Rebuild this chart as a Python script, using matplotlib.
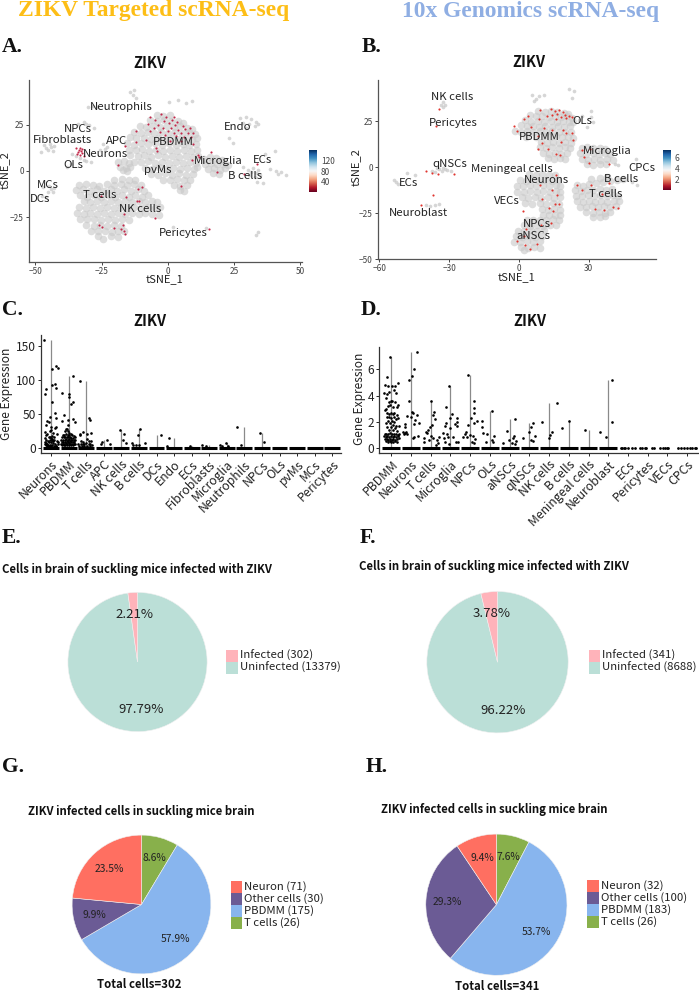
import matplotlib
matplotlib.use('Agg')
import matplotlib.pyplot as plt
import numpy as np
from matplotlib.patches import Rectangle

plt.rcParams['font.family'] = ['Noto Sans CJK SC', 'DejaVu Sans']

W, H = 699, 991

# ---- tSNE panel A
a_clusters = [
    # PBDMM
    (-4.2,30.5),(-1.6,29.8),(0.8,30.2),(-6.8,27.4),(-4.1,26.8),(-1.3,27.6),(1.4,26.9),(3.9,27.2),(5.6,25.9),
    (-10.4,24.2),(-8.2,23.6),(-5.4,24.4),(-2.9,23.7),(-0.4,24.3),(2.3,23.8),(4.8,24.1),(7.3,23.4),(9.1,22.8),
    (-12.6,21.1),(-10.1,20.6),(-7.6,21.3),(-5.1,20.7),(-2.4,21.2),(0.2,20.6),(2.9,21.1),(5.4,20.5),(7.9,21.0),(10.2,20.2),
    (-14.3,18.2),(-11.8,17.6),(-9.1,18.1),(-6.5,17.5),(-3.8,18.0),(-1.1,17.4),(1.6,18.1),(4.2,17.5),(6.8,18.0),(9.3,17.4),(11.2,18.1),
    (-15.2,14.9),(-12.7,14.3),(-10.2,15.0),(-7.4,14.4),(-4.9,14.9),(-2.2,14.3),(0.5,14.9),(3.1,14.3),(5.7,14.8),(8.2,14.2),(10.7,14.7),
    (-14.8,11.6),(-12.1,11.1),(-9.6,11.7),(-7.0,11.0),(-4.3,11.6),(-1.6,11.0),(1.0,11.6),(3.6,11.0),(6.2,11.5),(8.8,10.9),(11.0,11.4),
    (-14.1,8.4),(-11.4,7.9),(-8.8,8.5),(-6.2,7.8),(-3.5,8.4),(-0.9,7.8),(1.7,8.3),(4.4,7.7),(7.0,8.3),(9.5,7.8),(11.4,8.2),
    (-12.8,5.1),(-10.0,4.6),(-7.4,5.2),(-4.7,4.5),(-2.1,5.1),(0.6,4.5),(3.2,5.1),(5.8,4.5),(8.4,5.0),(10.8,4.5),
    (-8.6,1.8),(-5.9,1.3),(-3.2,1.9),(-0.6,1.3),(2.1,1.8),(4.7,1.2),(7.3,1.8),(9.8,1.2),(11.2,2.0),
    (-6.2,-1.4),(-3.6,-1.9),(-0.9,-1.3),(1.8,-1.9),(4.4,-1.3),(7.0,-1.9),(9.4,-1.4),
    (-1.8,-4.6),(1.0,-5.1),(3.6,-4.5),(6.2,-5.0),(8.6,-4.6),(2.2,-7.8),(4.8,-8.2),(7.2,-7.6),(4.6,-10.4),(6.1,-11.0),
    # small blob beside APC
    (-18.6,4.8),(-16.4,5.2),(-14.6,4.4),(-18.0,2.2),(-15.8,1.8),(-14.2,2.4),(-17.0,0.4),(-15.2,0.2),
    # microglia
    (13.6,6.6),(15.8,7.4),(18.2,7.0),(20.4,6.2),(14.2,3.8),(16.4,4.4),(18.8,3.6),(21.0,4.0),(22.6,3.0),
    (15.2,1.2),(17.6,1.6),(19.8,0.8),(21.8,1.4),(17.0,-1.0),(19.4,-1.4),
    # T cells and NK cells
    (-20.2,-4.6),(-17.4,-4.2),(-14.8,-5.0),(-12.2,-4.8),(-23.0,-7.2),(-20.4,-7.6),(-17.8,-7.0),(-15.2,-7.6),(-12.6,-7.0),(-10.2,-7.8),
    (-33.6,-7.6),(-31.0,-7.0),(-28.4,-7.6),(-25.8,-8.2),(-34.6,-10.4),(-32.0,-10.0),(-29.4,-10.6),(-26.8,-10.0),(-24.2,-10.6),(-21.6,-10.0),(-19.0,-10.6),(-16.4,-10.0),(-13.8,-10.6),(-11.2,-10.0),(-8.8,-10.6),
    (-33.0,-13.2),(-30.4,-13.8),(-27.8,-13.2),(-25.2,-13.8),(-22.6,-13.2),(-20.0,-13.8),(-17.4,-13.2),(-14.8,-13.8),(-12.2,-13.2),(-9.6,-13.8),(-7.4,-13.2),
    (-31.8,-16.4),(-29.2,-16.8),(-26.6,-16.2),(-24.0,-16.8),(-21.4,-16.2),(-18.8,-16.8),(-16.2,-16.2),(-13.6,-16.8),(-11.0,-16.2),(-8.4,-16.8),(-5.8,-16.2),(-4.0,-17.0),
    (-33.4,-19.4),(-30.8,-20.0),(-28.2,-19.4),(-25.6,-20.0),(-23.0,-19.4),(-20.4,-20.0),(-17.8,-19.4),(-15.2,-20.0),(-12.6,-19.4),(-10.0,-20.0),(-7.4,-19.4),(-4.8,-20.0),(-2.8,-19.4),
    (-34.4,-22.6),(-31.8,-23.2),(-29.2,-22.6),(-26.6,-23.2),(-24.0,-22.6),(-21.4,-23.2),(-18.8,-22.6),(-16.2,-23.2),(-13.6,-22.6),(-11.0,-23.2),(-8.4,-22.6),(-5.8,-23.2),(-3.4,-24.0),
    (-33.0,-25.8),(-30.4,-26.2),(-27.8,-25.8),(-25.2,-26.4),(-22.6,-25.8),(-20.0,-26.4),(-17.4,-25.8),(-14.8,-26.4),
    (-30.8,-29.2),(-28.0,-29.6),(-25.4,-29.0),(-22.8,-29.6),(-20.2,-29.0),(-17.6,-29.6),
    (-29.0,-32.2),(-26.4,-32.6),(-23.8,-32.2),(-21.2,-32.8),(-18.6,-32.2),(-16.4,-32.6),
    (-26.2,-35.4),(-24.4,-36.6),(-21.6,-35.2),(-18.6,-35.6),
]
a_sparse = [
    (-46.6,13.8),(-44.6,14.6),(-42.8,13.4),(-45.2,11.6),(-43.2,11.0),(-47.8,10.4),(-45.8,12.6),(-44.0,12.8),
    (-36.0,9.2),(-33.0,7.0),(-30.8,5.6),(-29.0,4.6),(-36.4,3.8),(-38.0,2.4),(-34.6,8.2),(-31.8,6.2),
    (-47.0,-8.6),(-44.8,-8.0),(-43.0,-9.2),(-45.4,-11.2),(-43.4,-11.6),(-47.6,-13.6),(-45.8,-14.2),(-44.2,-10.0),
    (-33.8,25.4),(-31.8,26.6),(-29.6,24.6),(-28.0,23.2),(-30.0,34.8),(-28.4,35.2),(-26.6,34.6),(-31.0,25.2),
    (-24.6,14.6),(-22.8,13.0),(-25.4,11.4),(-23.6,11.8),(-14.2,42.6),(-13.2,41.0),(-12.0,39.4),(-12.6,43.6),
    (27.2,28.6),(29.4,29.4),(31.6,28.0),(33.2,26.6),(28.4,26.2),(30.8,25.6),(32.8,24.2),(29.6,23.4),(34.0,25.2),
    (28.6,2.2),(30.2,0.8),(32.2,1.6),(34.2,0.4),(30.8,-2.2),(33.0,-3.0),(35.0,-2.2),(33.6,-6.2),(35.8,-6.4),(31.4,-0.6),(33.4,-1.0),
    (38.6,1.2),(40.8,0.2),(42.6,-0.4),(44.8,-2.0),(24.8,15.0),(23.2,17.6),(34.0,-33.0),(33.4,-34.6),(41.6,-1.6),
    (0.6,37.4),(3.8,38.6),(6.8,36.6),(9.2,37.8),(5.6,-32.6),(2.0,-30.4),(14.6,-31.0),(40.4,10.6),(36.8,9.2),
]
a_red = [
    (-2.4,30.8),(-6.6,29.2),(-0.6,29.4),(2.2,29.0),(-4.8,27.8),(-1.4,26.8),(1.6,27.4),(3.4,26.6),(-7.4,25.2),(-3.6,25.0),
    (0.4,25.8),(2.8,25.0),(5.6,24.2),(-5.0,23.4),(-1.8,23.2),(1.2,23.4),(4.0,22.4),(6.4,22.8),(8.6,23.2),(-6.8,21.8),
    (-3.0,21.2),(0.0,21.8),(2.4,20.8),(5.0,20.6),(7.6,20.6),(9.6,20.4),(-1.2,19.4),(3.2,18.8),(6.2,18.4),(8.8,18.2),
    (-8.2,17.0),(1.0,16.4),(5.0,16.0),(9.4,14.6),(-4.6,12.4),(-12.0,15.6),(-11.8,21.8),(-4.2,10.6),(9.0,6.0),(11.6,8.4),
    # neurons patch
    (-34.6,12.2),(-33.6,11.4),(-33.0,12.4),(-33.8,10.2),(-32.8,10.8),(-32.2,9.6),(-33.2,8.8),(-31.8,8.2),(-34.4,9.4),(-32.4,11.8),
    # scattered
    (-18.6,3.4),(-16.2,13.6),(-25.2,-13.6),(-15.6,-14.0),(-11.2,-9.6),(-9.6,-8.8),(-10.8,-16.2),(-16.6,-23.0),(-4.8,-25.4),(-17.0,-29.4),
    (-17.6,-31.6),(-16.4,-32.2),(-16.2,-34.2),(-26.0,-29.4),(-24.8,-30.4),(-20.4,-30.6),(-11.6,-16.4),(5.0,-8.0),(12.0,7.6),(16.4,10.4),
    (18.6,-0.4),(28.8,-1.8),(33.6,3.6),(15.6,-31.6),
]
a_labels = ['Neutrophils', 'NPCs', 'Fibroblasts', 'APC', 'PBDMM', 'Neurons', 'OLs', 'pvMs', 'Microglia',
            'ECs', 'B cells', 'Endo', 'MCs', 'DCs', 'T cells', 'NK cells', 'Pericytes']
a_label_x = [-17.5, -33.9, -39.8, -19.5, 2.0, -23.5, -35.5, -3.9, 18.9, 35.8, 29.1, 26.4, -45.3, -48.3, -25.6, -10.4, 5.7]
a_label_y = [34.8, 22.5, 16.8, 16.4, 15.9, 9.4, 3.0, 0.5, 5.2, 5.9, -2.7, 23.8, -7.6, -15.3, -13.2, -20.7, -33.7]

# ---- tSNE panel B
b_clusters = [
    # PBDMM
    (8.2,30.4),(11.0,30.0),(13.8,30.6),(16.4,30.2),(19.2,29.6),(21.2,28.8),
    (4.6,28.2),(7.2,27.6),(10.0,28.0),(12.8,27.4),(15.6,27.8),(18.2,27.2),(20.8,27.6),(22.8,26.6),
    (2.8,25.4),(5.4,24.8),(8.2,25.2),(10.8,24.8),(13.6,25.2),(16.4,24.6),(19.0,25.0),(21.6,24.4),(23.4,24.8),
    (0.8,22.8),(3.4,22.2),(6.0,22.6),(8.8,22.0),(11.4,22.6),(14.2,22.0),(16.8,22.4),(19.4,21.8),(22.0,22.2),
    (-1.8,19.6),(0.8,19.2),(3.6,19.8),(6.2,19.2),(9.0,19.6),(11.6,19.0),(14.4,19.6),(17.0,19.0),(19.8,19.4),(22.2,19.0),
    (3.2,16.6),(7.4,16.4),(10.6,16.8),(13.2,16.2),(15.8,16.8),(18.4,16.2),(21.0,16.6),(23.0,16.0),
    (9.4,13.8),(12.0,13.4),(14.6,13.8),(17.2,13.2),(19.8,13.8),(22.2,13.2),
    (9.2,10.8),(11.8,10.4),(14.4,10.8),(17.0,10.2),(19.6,10.8),(21.8,10.4),
    (10.4,7.8),(13.0,7.4),(15.6,7.8),(18.2,7.2),(20.6,7.8),(12.4,5.0),(15.0,4.6),(17.6,5.0),(19.8,4.6),
    # microglia
    (27.0,10.4),(29.4,10.8),(32.0,10.2),(34.6,10.6),(37.0,10.0),(26.4,7.8),(29.0,7.2),(31.6,7.8),(34.2,7.2),(36.8,7.6),(39.2,7.0),
    (27.2,4.6),(29.8,4.2),(32.4,4.6),(35.0,4.0),(37.6,4.6),(40.2,3.8),(29.4,1.8),(32.0,1.4),(34.6,1.8),(37.2,1.6),
    # neurons and VECs
    (4.4,-3.8),(7.2,-4.4),(10.0,-3.8),(12.8,-4.4),(15.6,-4.0),(0.4,-6.8),(3.0,-7.2),(5.8,-6.6),(8.6,-7.2),(11.4,-6.8),(14.0,-7.2),(16.8,-6.8),
    (-1.0,-10.0),(1.8,-10.4),(4.6,-9.8),(7.4,-10.4),(10.2,-9.8),(13.0,-10.4),(15.8,-9.8),(17.8,-10.2),
    (-0.8,-13.2),(2.0,-13.6),(4.8,-13.0),(7.6,-13.6),(10.4,-13.0),(13.2,-13.6),(16.0,-13.0),(17.8,-13.6),
    (1.2,-16.4),(4.0,-16.8),(6.8,-16.2),(9.6,-16.8),(12.4,-16.2),(15.2,-16.8),(17.6,-16.2),
    (2.8,-19.6),(5.8,-20.0),(9.0,-19.4),(11.8,-20.0),(14.6,-19.4),(17.2,-20.0),
    (9.8,-22.8),(12.4,-23.2),(15.0,-22.6),(17.6,-23.2),(10.2,-25.8),(12.8,-26.2),(15.4,-25.8),(17.8,-26.0),
    # NPCs and aNSCs
    (3.4,-28.4),(6.2,-28.8),(9.0,-28.4),(11.8,-28.8),(14.6,-28.2),(17.4,-28.6),(2.0,-31.4),(4.8,-31.8),(7.6,-31.2),(10.4,-31.8),(13.2,-31.2),(16.0,-31.6),
    (-0.6,-34.4),(2.2,-34.8),(5.0,-34.2),(7.8,-34.8),(10.6,-34.2),(-1.4,-37.4),(1.4,-37.8),(4.2,-37.2),(7.0,-37.8),(9.8,-37.2),
    (-2.2,-40.4),(0.6,-40.8),(3.4,-40.2),(6.2,-40.8),(9.0,-40.2),(1.0,-43.4),(3.8,-43.8),(6.6,-43.2),(9.0,-43.6),(2.0,-45.2),
    # T cells and B cells
    (24.8,-9.4),(27.4,-10.0),(30.0,-9.2),(33.0,-8.8),(36.0,-8.2),(39.0,-7.6),(42.0,-7.0),(44.6,-6.2),(31.0,-6.4),(34.6,-5.6),(38.0,-5.2),
    (24.2,-12.4),(26.8,-12.8),(29.4,-12.2),(32.0,-12.6),(34.6,-12.0),(37.2,-12.6),(39.8,-12.0),
    (24.6,-15.4),(27.2,-15.8),(29.8,-15.2),(32.4,-15.8),(35.0,-15.2),(37.6,-15.8),(40.2,-15.2),(42.4,-15.8),
    (25.0,-18.4),(27.6,-18.8),(30.2,-18.2),(32.8,-18.8),(35.4,-18.2),(38.0,-18.8),(40.6,-18.2),(43.0,-18.6),
    (26.2,-21.4),(28.8,-21.8),(31.4,-21.2),(34.0,-21.8),(36.6,-21.2),(39.2,-21.8),(41.8,-21.2),
    (29.0,-24.4),(31.6,-24.8),(34.2,-24.2),(36.8,-24.8),(39.0,-24.2),(32.0,-26.8),(34.6,-27.2),(37.0,-26.6),
]
b_sparse = [
    (-37.4,-1.8),(-35.8,-2.6),(-34.2,-1.0),(-32.4,-0.4),(-30.8,-1.6),(-29.2,-2.2),(-35.0,-0.2),(-33.2,-1.8),(-31.6,-0.8),
    (-53.6,-7.0),(-52.8,-8.2),(-52.0,-9.2),(-32.6,35.2),(-31.8,34.0),(-33.6,34.0),(-32.4,33.0),
    (-40.0,-20.4),(-38.0,-21.0),(-35.8,-20.4),(-34.2,-20.0),(5.8,39.0),(7.4,37.2),(8.8,38.6),(10.6,39.4),(6.4,36.0),
    (21.6,42.6),(23.8,41.6),(22.6,37.6),(30.8,30.4),(31.0,27.4),(31.6,24.6),(29.4,22.0),(50.4,4.4),(50.6,-9.4),(48.6,-8.0),
    (41.4,2.0),(42.6,1.2),(-48.0,-3.2),(-44.6,-4.0),(25.6,25.4),(27.0,27.8),
]
b_red = [
    (9.0,31.0),(13.8,31.4),(15.4,30.8),(17.4,31.2),(18.8,30.0),(16.4,29.2),(19.8,28.6),(21.6,28.0),(14.0,28.4),(12.0,27.6),
    (18.0,27.4),(20.4,26.8),(15.8,26.2),(22.6,27.4),(8.8,26.0),(4.0,27.6),(2.2,26.2),(-2.2,22.4),(-1.0,19.8),(5.4,21.8),
    (10.6,21.4),(14.4,20.2),(18.8,20.0),(20.2,18.6),(22.6,18.8),(23.2,14.6),(8.2,17.2),(10.0,13.4),(18.0,13.6),(12.4,9.8),
    (15.8,7.4),(17.6,6.4),(8.2,10.0),(27.2,9.4),(28.0,5.6),(30.0,2.4),(38.6,2.0),(30.4,10.0),
    (-39.8,-2.0),(-37.2,-3.2),(-34.6,-3.8),(-27.8,-3.4),(-35.6,22.2),(-34.4,31.6),(-36.8,-14.8),(-42.0,-20.6),
    (15.8,-4.4),(9.0,-9.4),(14.4,-12.2),(16.4,-14.8),(10.0,-17.4),(15.4,-19.8),(13.0,-22.4),(14.8,-23.8),(1.6,-23.6),(17.0,-20.0),
    (27.0,-12.4),(24.8,-9.6),(30.8,-9.8),(32.6,-22.8),(36.4,-23.4),(40.4,-21.8),(42.6,-22.0),(35.8,-14.6),(38.8,-8.8),
    (2.4,-42.4),(4.8,-44.6),(7.8,-41.8),(2.2,-37.2),(9.6,-31.6),(13.8,-30.4),(3.2,-33.6),(-1.0,-39.8),
]
b_labels = ['NK cells', 'Pericytes', 'OLs', 'PBDMM', 'Microglia', 'qNSCs', 'Meningeal cells', 'CPCs', 'Neurons',
            'B cells', 'ECs', 'T cells', 'VECs', 'Neuroblast', 'NPCs', 'aNSCs']
b_label_x = [-28.5, -28.2, 27.0, 8.9, 37.8, -29.8, -3.0, 52.6, 11.9, 43.8, -47.5, 37.3, -5.2, -43.3, 7.6, 6.2]
b_label_y = [38.0, 24.1, 25.2, 16.5, 8.7, 1.6, -0.9, -0.2, -7.1, -6.3, -8.5, -14.5, -18.3, -24.6, -30.8, -37.1]

# ---- expression panel C
c_cats = ['Neurons', 'PBDMM', 'T cells', 'APC', 'NK cells', 'B cells', 'DCs', 'Endo', 'ECs', 'Fibroblasts',
          'Microglia', 'Neutrophils', 'NPCs', 'OLs', 'pvMs', 'MCs', 'Pericytes']
c_max = [158, 106, 98, 12, 26, 27, 18, 14, 3, 4, 6.4, 31, 22, 0, 0, 0, 0]
c_points = [
    # Neurons
    (0.62,158),(0.74,86),(0.64,79),(1.08,116),(1.26,120.5),(1.4,117.5),(1.04,93),(1.23,94),(1.26,88.5),(1.04,68),
    (1.23,50.6),(1.28,43),(0.94,45),(0.76,40),(0.87,38),(0.72,33.5),(0.66,22.6),(0.7,18.7),(1.0,30),(1.28,30),
    (1.25,29),(1.02,26),(0.96,24),(1.11,22),(1.36,20),(1.06,17),(0.92,16),(1.15,15),(0.98,14),(1.04,13),
    (0.68,14),(0.74,12),(0.81,10),(1.19,12),(1.32,10),(0.66,8),(0.72,7),(0.79,6),(0.9,8),(1.0,9),
    (1.09,7),(1.23,6),(1.38,5),(0.64,5),(0.7,4),(0.85,4),(0.96,4),(1.08,4),(1.17,3),(1.3,3),
    (0.76,2.5),(0.9,2.5),(1.02,2.5),(1.26,2),(1.4,8),(0.94,11),(1.13,10),(0.87,15),(1.08,11),(0.78,20),
    # PBDMM
    (2.27,106),(2.02,79),(2.04,74),(2.27,68),(2.13,64),(1.62,80),(1.75,48),(1.64,39),(1.98,41),(2.22,42),
    (2.37,38),(1.94,33.5),(1.9,28),(1.84,27),(1.79,25),(1.96,24),(2.04,21),(2.13,20),(1.66,19),(1.75,19),
    (1.87,20),(1.94,18),(2.02,18),(2.19,18),(2.28,17),(1.64,15),(1.72,15),(1.81,16),(1.88,15),(1.98,15),
    (2.07,16),(2.15,14),(2.24,14),(2.34,15),(1.58,12),(1.68,12),(1.77,12),(1.85,13),(1.94,12),(2.04,13),
    (2.11,11),(2.21,12),(2.3,11),(2.38,12),(1.6,9),(1.7,9),(1.79,9),(1.88,10),(1.98,9),(2.05,10),
    (2.15,9),(2.23,8),(2.32,9),(1.56,6),(1.66,6),(1.75,6),(1.83,7),(1.92,6),(2.0,7),(2.09,6),
    (2.19,6),(2.28,6),(2.36,6),(1.62,4),(1.72,4),(1.81,3.5),(1.9,4),(2.0,4),(2.11,3.5),(2.22,4),
    # T cells
    (2.65,98),(3.16,43),(3.24,41),(2.83,22.6),(2.65,18.7),(2.64,20),(3.3,22),(3.07,20),(2.69,10),(2.83,9),
    (3.16,10),(3.3,10),(3.07,13),(2.56,6),(2.68,5),(2.79,6),(2.9,5),(3.01,7),(3.13,6),(3.24,5),
    (3.32,4),(2.6,3),(2.75,3),(2.88,3),(3.07,3),(3.2,3),
    # remaining types
    (3.88,9),(3.84,6),(4.16,12),(4.35,5.4),(4.92,26),(5.15,20),(5.08,11),(5.24,7),
    (6.06,27),(5.95,18),(5.6,7),(5.65,4),(6.37,7),(5.83,4),(6.03,4),(7.28,18),(7.69,14),(7.59,2),
    (8.92,3),(9.56,4),(9.84,3),(10.6,4),(10.93,6.4),(10.73,3),(11.07,2.5),(11.6,31),(11.78,4),(12.88,22),(13.11,8),
]

# ---- expression panel D
d_cats = ['PBDMM', 'Neurons', 'T cells', 'Microglia', 'NPCs', 'OLs', 'aNSCs', 'qNSCs', 'NK cells', 'B cells',
          'Meningeal cells', 'Neuroblast', 'ECs', 'Pericytes', 'VECs', 'CPCs']
d_max = [6.9, 7.3, 3.57, 4.73, 5.52, 2.84, 2.2, 1.95, 3.42, 2.05, 1.42, 5.16, 0, 0, 0, 0]
d_points = [
    (0.93,6.9),(0.76,5.4),(1.32,4.95),(0.68,4.8),(0.82,4.7),(1.02,4.75),(1.18,4.7),(0.63,4.2),(1.12,4.4),(0.9,4.3),
    (1.22,4.2),(0.78,4.1),(0.72,3.8),(0.96,3.6),(0.88,3.5),(1.04,3.55),(1.2,3.5),(1.34,3.3),(1.3,3.1),(0.74,3.0),
    (0.84,3.2),(0.92,3.3),(1.1,3.1),(0.7,2.9),(0.78,2.7),(0.86,2.6),(0.98,2.7),(1.06,2.6),(1.16,2.7),(1.28,2.5),
    (0.76,2.4),(0.9,2.4),(1.0,2.3),(1.12,2.4),(1.22,2.2),(1.36,2.3),(0.82,2.1),(1.04,2.1),(1.16,2.0),(0.72,1.9),
    (0.94,1.9),(1.08,1.8),(1.26,1.7),(1.38,1.7),(0.8,1.6),(1.0,1.6),(1.18,1.5),(0.88,1.4),(1.1,1.4),(1.3,1.3),
    (0.66,1.1),(0.74,1.05),(0.84,1.1),(0.92,1.15),(1.02,1.05),(1.12,1.1),(1.22,1.05),(1.32,1.0),(1.4,1.05),(0.64,0.95),
    (0.72,0.85),(0.8,0.9),(0.88,0.85),(0.98,0.9),(1.06,0.85),(1.16,0.9),(1.26,0.85),(1.36,0.9),(0.68,0.7),(0.76,0.7),
    (0.84,0.65),(0.94,0.7),(1.02,0.65),(1.1,0.7),(1.2,0.65),(1.3,0.7),(1.38,0.75),(0.72,0.55),(0.82,0.5),(0.92,0.55),
    (1.0,0.5),(1.1,0.5),(1.18,0.55),(1.28,0.5),
    (2.32,7.3),(2.13,6.03),(2.05,5.5),(1.91,5.2),(1.88,3.57),(2.1,2.66),(2.05,2.78),(2.3,2.5),(1.81,2.46),(2.0,2.35),
    (2.2,2.15),(2.4,1.9),(2.17,1.85),(1.69,1.82),(1.69,1.65),(1.6,1.2),(1.7,1.15),(1.8,1.08),(2.08,0.8),(2.37,0.96),
    (2.14,0.82),(1.64,1.1),(1.75,1.2),
    (3.0,3.57),(3.15,2.73),(3.13,2.53),(3.2,2.2),(3.04,1.77),(2.96,1.65),(2.84,1.4),(2.76,1.27),(2.82,1.15),(2.65,0.76),
    (2.65,0.5),(2.92,0.63),(3.02,0.94),(3.13,0.76),(3.33,0.63),(3.42,0.89),(3.37,0.38),(3.29,0.25),
    (3.9,4.73),(3.77,3.16),(4.09,2.58),(3.96,2.28),(4.35,2.28),(4.33,2.03),(4.24,1.82),(4.34,1.7),(3.77,1.95),(3.7,1.7),
    (3.96,1.5),(3.62,1.14),(3.8,1.09),(3.85,0.89),(3.68,0.76),(4.15,0.89),(4.27,0.46),(4.39,0.46),(3.72,0.5),(3.94,0.33),
    (4.9,5.52),(5.17,3.6),(5.19,3.04),(5.2,2.66),(5.02,2.28),(5.32,2.1),(5.19,1.9),(4.9,1.77),(4.77,1.27),(4.73,1.06),
    (4.65,0.89),(4.82,0.84),(4.99,1.01),(5.12,0.96),(5.24,0.71),(5.07,0.51),(5.19,0.38),
    (5.61,2.1),(5.61,1.6),(6.08,2.84),(5.63,1.14),(5.83,1.06),(5.8,0.46),(6.22,0.94),(6.08,0.63),(6.16,0.5),
    (7.25,2.2),(6.84,1.34),(6.67,0.38),(6.98,0.63),(7.2,0.94),(7.17,0.76),(7.34,0.58),(7.14,0.38),(7.29,0.3),
    (8.16,1.95),(8.08,1.65),(8.0,1.2),(7.67,0.8),(8.3,0.94),(8.08,0.63),(8.16,0.58),
    (8.62,2.0),(9.38,3.42),(9.13,1.27),(9.04,1.0),(8.99,0.76),(10.0,2.05),(9.66,1.54),(10.8,1.42),
    (12.2,5.16),(12.2,1.97),(11.6,1.27),(11.9,0.86),
]
d_zero_x = [12.62, 12.7, 12.78, 12.86, 13.02, 13.2, 13.38, 13.6, 13.72, 13.84, 13.92, 14.3, 14.62, 14.8, 14.9, 14.98, 15.02,
            15.56, 15.7, 15.86, 15.98, 16.12, 16.24, 16.38, 16.46, 14.22]

# ---- pies
e_vals = [13379, 302]
e_legend = ['Infected (302)', 'Uninfected (13379)']
f_vals = [8688, 341]
f_legend = ['Infected (341)', 'Uninfected (8688)']
g_vals = [26, 175, 30, 71]
g_legend = ['Neuron (71)', 'Other cells (30)', 'PBDMM (175)', 'T cells (26)']
h_vals = [26, 183, 100, 32]
h_legend = ['Neuron (32)', 'Other cells (100)', 'PBDMM (183)', 'T cells (26)']

pink, mint = '#FFB3BA', '#BBDFD7'
coral, purple, sky, olive = '#FF6F61', '#6B5B95', '#88B5EE', '#88B04B'

fig = plt.figure(figsize=(W / 100, H / 100), dpi=100, facecolor='white')


def box(left, top, right, bottom):
    return [left / W, 1 - bottom / H, (right - left) / W, (bottom - top) / H]


def label(x, y, s, **kw):
    kw.setdefault('ha', 'center')
    kw.setdefault('va', 'center')
    fig.text(x / W, 1 - y / H, s, **kw)


def tsne(pos, xlim, ylim, xticks, yticks, clusters, sparse, red, redcolor, names, nx, ny):
    ax = fig.add_axes(box(*pos))
    gx, gy = zip(*clusters)
    # soft overlapping dots give the mottled look of the dense clusters
    ax.scatter(gx, gy, s=30, color='#c9c9c9', alpha=0.62, linewidths=0)
    sx, sy = zip(*sparse)
    ax.scatter(sx, sy, s=7, color='#c9c9c9', alpha=0.75, linewidths=0)
    rx, ry = zip(*red)
    ax.scatter(rx, ry, s=2.4, color=redcolor, linewidths=0)
    for n, x, y in zip(names, nx, ny):
        ax.text(x, y, n, fontsize=8.2, color='#222222', ha='center', va='center')
    ax.set_xlim(xlim)
    ax.set_ylim(ylim)
    ax.set_xticks(xticks)
    ax.set_yticks(yticks)
    ax.tick_params(labelsize=6, colors='#444444', length=2, width=0.7, pad=1.5)
    for s in ['top', 'right']:
        ax.spines[s].set_visible(False)
    for s in ['left', 'bottom']:
        ax.spines[s].set_color('#555555')
        ax.spines[s].set_linewidth(0.9)
    return ax


def colorbar(pos, vmin, vmax, ticks):
    ax = fig.add_axes(box(*pos))
    grad = np.linspace(vmin, vmax, 128).reshape(-1, 1)
    ax.imshow(grad, aspect='auto', origin='lower', cmap='RdBu', extent=[0, 1, vmin, vmax])
    ax.set_xticks([])
    ax.yaxis.tick_right()
    ax.set_yticks(ticks)
    ax.tick_params(labelsize=6, colors='#444444', length=0, pad=2.5)
    for s in ax.spines.values():
        s.set_visible(False)


def expression(pos, xlim, ylim, yticks, cats, tops, points, full_zero, zero_x=()):
    ax = fig.add_axes(box(*pos))
    xs = np.arange(1, len(cats) + 1)
    ax.vlines(xs, 0, tops, color='#8a8a8a', lw=0.9, zorder=1)
    ax.hlines(np.zeros(full_zero), xs[:full_zero] - 0.45, xs[:full_zero] + 0.45, color='black', lw=2.2, zorder=2)
    if len(zero_x):
        ax.scatter(zero_x, np.zeros(len(zero_x)), s=4, color='black', linewidths=0, zorder=2)
    px, py = zip(*points)
    ax.scatter(px, py, s=3.6, color='black', linewidths=0, zorder=3)
    ax.set_xlim(xlim)
    ax.set_ylim(ylim)
    ax.set_yticks(yticks)
    ax.set_xticks(xs)
    ax.set_xticklabels(cats, rotation=45, ha='right', rotation_mode='anchor')
    ax.tick_params(axis='y', labelsize=8.6, length=2, width=0.7, pad=1.5, colors='#222222')
    ax.tick_params(axis='x', labelsize=8.8, length=2, width=0.7, pad=1.5, colors='#222222')
    for s in ['top', 'right']:
        ax.spines[s].set_visible(False)
    for s in ['left', 'bottom']:
        ax.spines[s].set_color('#333333')
        ax.spines[s].set_linewidth(0.9)
    return ax


def pie(center, r, vals, colors, fmt, fsize):
    ax = fig.add_axes(box(center[0] - r, center[1] - r, center[0] + r, center[1] + r))
    ax.pie(vals, colors=colors, startangle=90, counterclock=False, radius=1, autopct=fmt, pctdistance=0.69,
           wedgeprops={'edgecolor': '#f0f0f0', 'linewidth': 0.4}, textprops={'fontsize': fsize, 'color': '#222222'})
    ax.set_xlim(-1, 1)
    ax.set_ylim(-1, 1)
    ax.set_aspect('auto')


def swatches(x, y0, names, colors, step=12):
    for i, (n, c) in enumerate(zip(names, colors)):
        top = y0 + i * step
        fig.add_artist(Rectangle((x / W, 1 - (top + 11.5) / H), 11.5 / W, 11.5 / H, transform=fig.transFigure,
                                 facecolor=c, edgecolor='none'))
        label(x + 14, top + 5.6, n, ha='left', fontsize=8.2, color='#222222')


# headline text
label(17.5, 15.7, 'ZIKV Targeted scRNA-seq', ha='left', va='baseline', family='Liberation Serif', weight='bold',
      fontsize=16.9, color='#FDBE16')
label(401.5, 16.5, '10x Genomics scRNA-seq', ha='left', va='baseline', family='Liberation Serif', weight='bold',
      fontsize=16.9, color='#8FAEE3')

for s, x, y in [('A.', 2, 51.5), ('B.', 362, 51.5), ('C.', 2, 315), ('D.', 361, 315),
                ('E.', 2, 543), ('F.', 360, 543), ('G.', 2, 772.5), ('H.', 365.5, 772.5)]:
    label(x, y, s, ha='left', va='baseline', family='Liberation Serif', weight='bold', fontsize=15.5, color='#111111')

for x, y in [(150, 63), (529, 62), (150, 320.5), (530, 320.5)]:
    label(x, y, 'ZIKV', fontsize=10.5, weight='bold', color='#111111')

# top row
tsne((28.7, 80, 301.7, 262), (-52.5, 50.6), (-49.2, 49.2), [-50, -25, 0, 25, 50], [-25, 0, 25],
     a_clusters, a_sparse, a_red, '#c2284a', a_labels, a_label_x, a_label_y)
label(5, 170, 'tSNE_2', rotation=90, fontsize=8, color='#222222')
label(165, 279, 'tSNE_1', fontsize=8, color='#222222')
colorbar((309.3, 150.3, 317.3, 191.7), 0, 161, [40, 80, 120])

tsne((377.7, 80, 655.7, 259.3), (-60.6, 58.7), (-50, 47.4), [-60, -30, 0, 30], [-50, -25, 0, 25],
     b_clusters, b_sparse, b_red, '#e0352f', b_labels, b_label_x, b_label_y)
label(356, 167, 'tSNE_2', rotation=90, fontsize=8, color='#222222')
label(516.7, 277, 'tSNE_1', fontsize=8, color='#222222')
colorbar((663.3, 150, 671.3, 190), 0.05, 7.33, [2, 4, 6])

# middle row
expression((40.7, 335, 340.7, 453.3), (0.41, 17.48), (-8.3, 166), [0, 50, 100, 150], c_cats, c_max, c_points, 17)
label(7, 394, 'Gene Expression', rotation=90, fontsize=8.6, color='#222222')
expression((379.3, 346.7, 699, 453.3), (0.39, 16.6), (-0.38, 7.7), [0, 2, 4, 6], d_cats, d_max, d_points, 12, d_zero_x)
label(359, 399, 'Gene Expression', rotation=90, fontsize=8.6, color='#222222')

# share of infected cells
label(2, 569, 'Cells in brain of suckling mice infected with ZIKV', ha='left', fontsize=8.2, weight='bold', color='#111111')
pie((137.5, 662), 69.6, e_vals, [mint, pink], '%.2f%%', 9.5)
swatches(226, 650, e_legend, [pink, mint])

label(359, 566.7, 'Cells in brain of suckling mice infected with ZIKV', ha='left', fontsize=8.2, weight='bold', color='#111111')
pie((497.5, 662.2), 70.7, f_vals, [mint, pink], '%.2f%%', 9.5)
swatches(588.5, 650, f_legend, [pink, mint])

# infected cells by cell type
label(28, 811.7, 'ZIKV infected cells in suckling mice brain', ha='left', fontsize=8.2, weight='bold', color='#111111')
pie((141.5, 904.5), 69.4, g_vals, [olive, sky, purple, coral], '%.1f%%', 7.4)
swatches(230.5, 881, g_legend, [coral, purple, sky, olive])
label(139, 984, 'Total cells=302', fontsize=8.2, weight='bold', color='#111111')

label(381, 810, 'ZIKV infected cells in suckling mice brain', ha='left', fontsize=8.2, weight='bold', color='#111111')
pie((496.4, 904.7), 70.6, h_vals, [olive, sky, purple, coral], '%.1f%%', 7.4)
swatches(587, 880, h_legend, [coral, purple, sky, olive])
label(497, 986, 'Total cells=341', fontsize=8.2, weight='bold', color='#111111')

fig.savefig('out.png', dpi=100)
